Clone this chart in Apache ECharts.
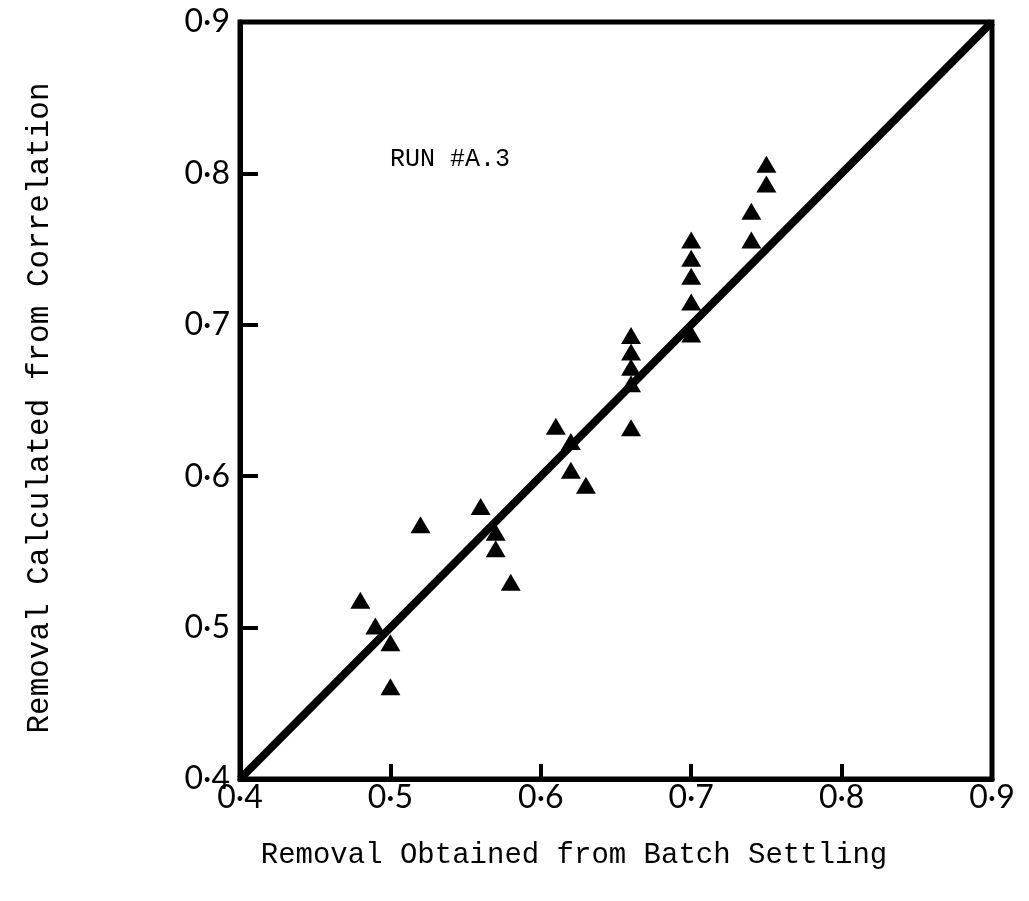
<!DOCTYPE html>
<html>
<head>
<meta charset="utf-8">
<style>
  html, body { margin: 0; padding: 0; background: #fff; }
  #chart { width: 1029px; height: 901px; }
</style>
<script src="https://cdn.jsdelivr.net/npm/echarts@6/dist/echarts.min.js"></script>
</head>
<body>
<div id="chart"></div>
<script>
// Removal obtained from batch settling (x) vs removal calculated from correlation (y)
const removalObserved = [
  0.48, 0.49, 0.50, 0.50, 0.52, 0.56, 0.57, 0.57, 0.58,
  0.61, 0.62, 0.62, 0.63, 0.66, 0.66, 0.66, 0.66, 0.66,
  0.70, 0.70, 0.70, 0.70, 0.70, 0.74, 0.74, 0.75, 0.75
];
const removalCalculated = [
  0.518, 0.501, 0.490, 0.461, 0.568, 0.580, 0.563, 0.552, 0.530,
  0.633, 0.623, 0.604, 0.594, 0.693, 0.682, 0.672, 0.661, 0.632,
  0.756, 0.744, 0.732, 0.715, 0.694, 0.775, 0.756, 0.806, 0.793
];
// Line of perfect agreement
const equalityLine = [[0.4, 0.4], [0.9, 0.9]];
const axisMin = 0.4, axisMax = 0.9, axisStep = 0.1;

const points = removalObserved.map((x, i) => [x, removalCalculated[i]]);
const tickText = v => v.toFixed(1).replace('.', '·');

const chart = echarts.init(document.getElementById('chart'), null, { renderer: 'canvas' });
chart.setOption({
  backgroundColor: '#fff',
  animation: false,
  grid: {
    left: 240, right: 37, top: 22, bottom: 122,
    show: true, borderColor: '#000', borderWidth: 5, backgroundColor: 'transparent'
  },
  xAxis: {
    type: 'value', min: axisMin, max: axisMax, interval: axisStep,
    splitLine: { show: false },
    axisLine: { show: true, lineStyle: { color: '#000', width: 5 } },
    axisTick: { show: true, inside: true, length: 15, lineStyle: { color: '#000', width: 4 } },
    axisLabel: { margin: 3, color: '#000', fontFamily: 'Lato', fontSize: 32, formatter: tickText }
  },
  yAxis: {
    type: 'value', min: axisMin, max: axisMax, interval: axisStep,
    splitLine: { show: false },
    axisLine: { show: true, lineStyle: { color: '#000', width: 5 } },
    axisTick: { show: true, inside: true, length: 18, lineStyle: { color: '#000', width: 4 } },
    axisLabel: { margin: 10, color: '#000', fontFamily: 'Lato', fontSize: 32, formatter: tickText }
  },
  series: [
    {
      type: 'line', data: equalityLine, symbol: 'none',
      lineStyle: { color: '#000', width: 8 }, z: 2
    },
    {
      type: 'scatter', data: points, symbol: 'triangle', symbolSize: [20, 17],
      itemStyle: { color: '#000', opacity: 1 }, z: 3
    }
  ],
  graphic: [
    {
      type: 'text', left: 390, top: 147,
      style: { text: 'RUN #A.3', fontFamily: 'Liberation Mono', fontSize: 25, fill: '#000' }
    },
    {
      type: 'text', x: 574, y: 855,
      style: {
        text: 'Removal Obtained from Batch Settling', fontFamily: 'Liberation Mono',
        fontSize: 29, fill: '#000', align: 'center', verticalAlign: 'middle'
      }
    },
    {
      type: 'text', x: 40, y: 408, rotation: Math.PI / 2,
      style: {
        text: 'Removal Calculated from Correlation', fontFamily: 'Liberation Mono',
        fontSize: 31, fill: '#000', align: 'center', verticalAlign: 'middle'
      }
    }
  ]
});
</script>
</body>
</html>
